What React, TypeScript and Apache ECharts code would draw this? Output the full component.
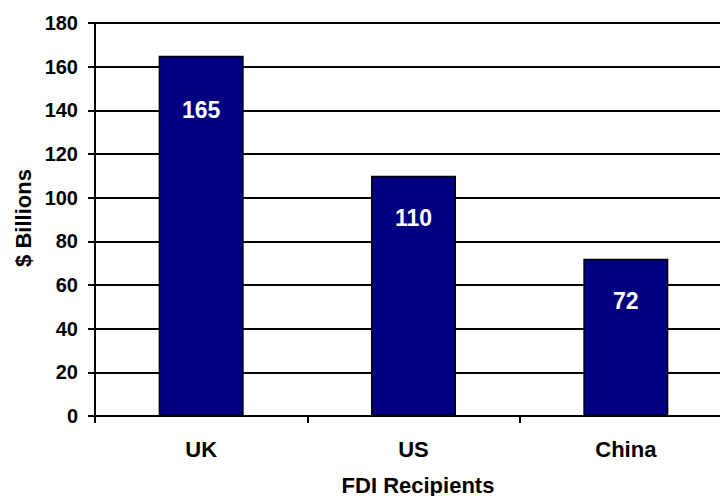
import React, { useEffect, useRef } from "react";
import * as echarts from "echarts";

const categories = ["UK", "US", "China"];
const values = [165, 110, 72];
const labelDistances = [43, 31, 31];
const yTicks = { min: 0, max: 180, interval: 20 };
const xAxisTitle = "FDI Recipients";
const yAxisTitle = "$ Billions";

const FONT = "'Liberation Sans', Arial, sans-serif";

export default function App() {
  const ref = useRef<HTMLDivElement>(null);
  useEffect(() => {
    if (!ref.current) return;
    const chart = echarts.init(ref.current, undefined, { renderer: "svg" });
    chart.setOption({
      animation: false,
      backgroundColor: "#ffffff",
      grid: { left: 95, right: 0, top: 23, bottom: 80, containLabel: false },
      xAxis: {
        type: "category",
        data: categories,
        axisLine: { show: true, lineStyle: { color: "#000", width: 2 } },
        axisTick: { show: true, length: 7, lineStyle: { color: "#000", width: 2 } },
        axisLabel: { color: "#000", fontFamily: FONT, fontWeight: "bold", fontSize: 22, margin: 22 },
        splitLine: { show: false },
      },
      yAxis: {
        type: "value",
        min: yTicks.min,
        max: yTicks.max,
        interval: yTicks.interval,
        axisLine: { show: true, lineStyle: { color: "#000", width: 2 } },
        axisTick: { show: true, length: 7, lineStyle: { color: "#000", width: 2 } },
        axisLabel: { color: "#000", fontFamily: FONT, fontWeight: "bold", fontSize: 20, margin: 17 },
        splitLine: { show: true, lineStyle: { color: "#000", width: 2 } },
      },
      series: [
        {
          type: "bar",
          data: values.map((v, i) => ({
            value: v,
            label: { distance: labelDistances[i] },
          })),
          barWidth: 85,
          itemStyle: { color: "#000080", borderColor: "#000", borderWidth: 1.5 },
          label: {
            show: true,
            position: "insideTop",
            color: "#fff",
            fontFamily: FONT,
            fontWeight: "bold",
            fontSize: 23,
          },
        },
      ],
      graphic: [
        {
          type: "text",
          x: 418,
          y: 485,
          style: {
            text: xAxisTitle,
            fill: "#000",
            font: `bold 22px ${FONT}`,
            textAlign: "center",
            textVerticalAlign: "middle",
          },
        },
        {
          type: "text",
          x: 23,
          y: 218,
          rotation: Math.PI / 2,
          style: {
            text: yAxisTitle,
            fill: "#000",
            font: `bold 22px ${FONT}`,
            textAlign: "center",
            textVerticalAlign: "middle",
          },
        },
      ],
    });
    return () => chart.dispose();
  }, []);
  return (
    <div
      style={{ position: "absolute", left: 0, top: 0, width: 720, height: 496, overflow: "hidden", background: "#fff" }}
    >
      <div ref={ref} style={{ width: 732, height: 496 }} />
    </div>
  );
}
